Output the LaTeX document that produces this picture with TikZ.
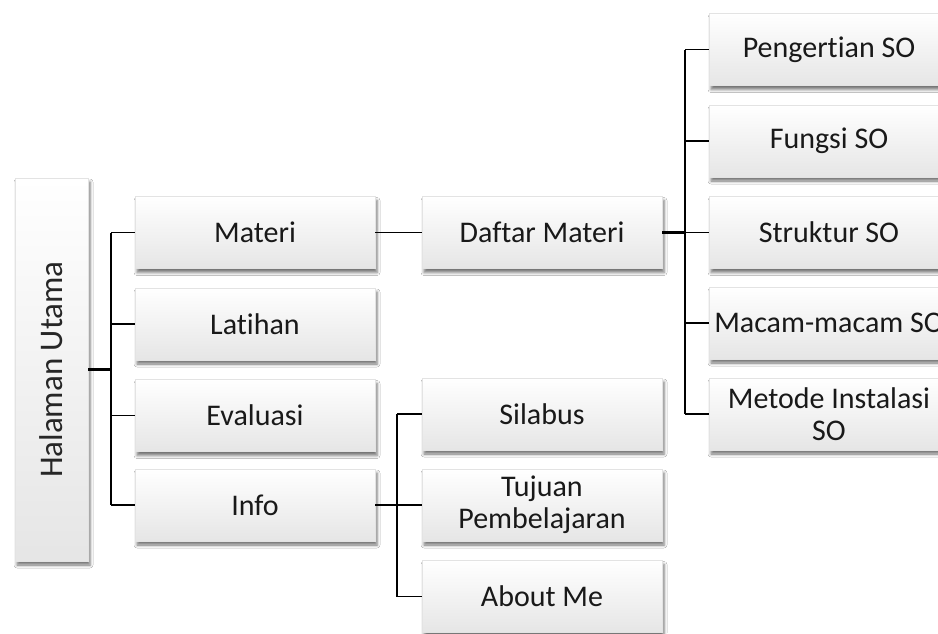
\documentclass[tikz,border=0pt]{standalone}
\usepackage{fontspec}
\setmainfont{Carlito}[Ligatures=NoCommon]
\usetikzlibrary{shadows.blur}
\begin{document}
\begin{tikzpicture}[x=1pt,y=-1pt,
  box/.style={rectangle, draw=gray!22, line width=0.5pt,
    top color=white, bottom color=gray!20,
    minimum width=240pt, minimum height=72pt, inner sep=2pt,
    align=center, text=black!90, font=\fontsize{30}{32}\selectfont,
    blur shadow={shadow xshift=2pt, shadow yshift=-4pt,
      shadow blur radius=3pt, shadow opacity=55}},
  rootbox/.style={box, minimum width=73pt, minimum height=383pt},
  link/.style={line width=1.7pt, black},
  thicklink/.style={line width=3.2pt, black}]
\useasboundingbox (0,0) rectangle (938,633);
\clip (0,0) rectangle (938,633);
\fill[white] (0,0) rectangle (938,633);

% root
\node[rootbox] (root) at (51.5,369.5) {};
\node[rotate=90, text=black!85, font=\fontsize{33}{36}\selectfont]
  (roottext) at (root.center) {Halaman Utama};

% first level
\node[box] (materi)   at (255,232.5) {Materi};
\node[box] (latihan)  at (255,324)   {Latihan};
\node[box] (evaluasi) at (255,415.5) {Evaluasi};
\node[box] (info)     at (255,505)   {Info};

% course material
\node[box] (daftar) at (542,232.5) {Daftar Materi};
\node[box] (peng)   at (829,49.5)  {Pengertian SO};
\node[box] (fungsi) at (829,141)   {Fungsi SO};
\node[box] (struk)  at (829,232.5) {Struktur SO};
\node[box] (macam)  at (829,323)   {Macam-macam SO};
\node[box] (metode) at (829,414)   {Metode Instalasi\\SO};

% info pages
\node[box] (silabus) at (542,414)   {Silabus};
\node[box] (tujuan)  at (542,505)   {Tujuan\\Pembelajaran};
\node[box] (about)   at (542,596.5) {About Me};

% trunks
\coordinate (t1) at (111,369.5);
\coordinate (t2) at (685,232.5);
\coordinate (t3) at (397,505);

% root to first level
\draw[thicklink] (root.east |- t1) -- (t1);
\draw[link] (t1 |- materi.west) -- (t1 |- info.west);
\foreach \n in {materi,latihan,evaluasi,info}
  \draw[link] (t1 |- \n.west) -- (\n.west);

% materi to list of topics
\draw[link] (materi.east) -- (daftar.west);
\draw[thicklink] (daftar.east) -- (t2);
\draw[link] (t2 |- peng.west) -- (t2 |- metode.west);
\foreach \n in {peng,fungsi,struk,macam,metode}
  \draw[link] (t2 |- \n.west) -- (\n.west);

% info to its pages
\draw[link] (info.east) -- (t3);
\draw[link] (t3 |- silabus.west) -- (t3 |- about.west);
\foreach \n in {silabus,tujuan,about}
  \draw[link] (t3 |- \n.west) -- (\n.west);
\end{tikzpicture}
\end{document}
